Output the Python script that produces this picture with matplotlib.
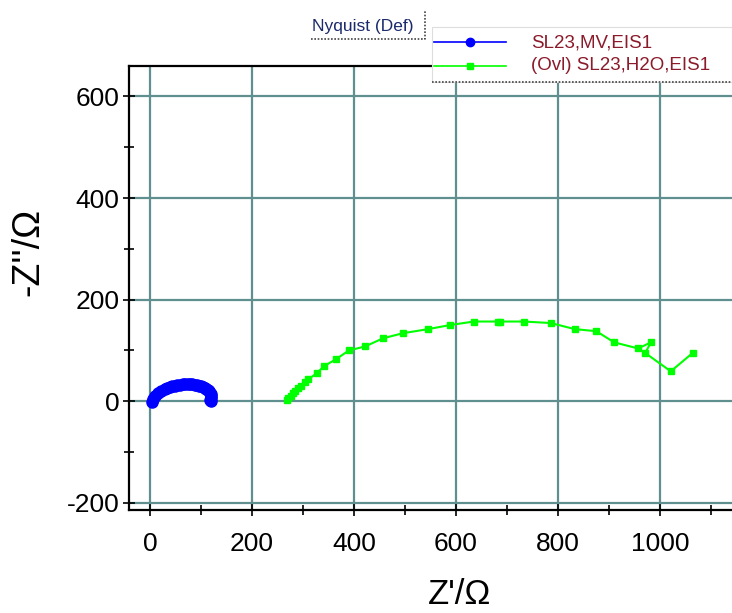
import numpy as np
import matplotlib
matplotlib.use('Agg')
from matplotlib import pyplot as plt
from matplotlib.lines import Line2D
from matplotlib.ticker import MultipleLocator

plt.rcParams['axes.unicode_minus'] = False

# blue series: SL23,MV,EIS1
mv_re = [4, 6, 10, 16, 22, 29, 34, 39, 44, 49, 54, 59, 64, 69, 74, 78, 83, 88, 92,
         96, 100, 104, 107, 110, 113, 116, 118, 120, 120, 119, 118, 120]
mv_im = [-2, 4, 10, 16, 20, 24, 26, 28, 30, 31, 32, 33, 34, 35, 35, 35, 34, 33, 32,
         31, 30, 28, 26, 24, 22, 20, 17, 14, 10, 6, 2, 1]

# green series: (Ovl) SL23,H2O,EIS1
h2o_re = [268, 271, 276, 280, 285, 290, 297, 304, 310, 327, 341, 365, 390, 422, 457,
          496, 545, 588, 635, 682, 686, 733, 786, 833, 875, 910, 957, 982, 971, 1021, 1065]
h2o_im = [2, 6, 10, 16, 20, 26, 31, 37, 43, 55, 69, 83, 100, 108, 124,
          134, 142, 150, 157, 157, 157, 157, 154, 142, 138, 116, 104, 116, 95, 59, 96]

legend_labels = ['SL23,MV,EIS1', '(Ovl) SL23,H2O,EIS1']
title_tag = 'Nyquist (Def)'

grid_col = '#5f8f8f'
text_red = '#8b1a2a'

fig = plt.figure(figsize=(7.32, 6.13), dpi=100)
ax = fig.add_axes([129/732, 1 - 510/613, 1 - 129/732, (510 - 66)/613])

ax.plot(mv_re, mv_im, color='#0000ff', lw=1.5, marker='o', ms=8, zorder=3)
ax.plot(h2o_re, h2o_im, color='#00ff00', lw=1.5, marker='s', ms=5, zorder=3)

ax.set_xlim(-41, 1141)
ax.set_ylim(-214, 660)
ax.xaxis.set_major_locator(MultipleLocator(200))
ax.xaxis.set_minor_locator(MultipleLocator(100))
ax.yaxis.set_major_locator(MultipleLocator(200))
ax.yaxis.set_minor_locator(MultipleLocator(100))
ax.grid(True, which='major', color=grid_col, lw=1.6, zorder=1)
ax.set_axisbelow(True)

for s in ['left', 'bottom', 'top']:
    ax.spines[s].set_linewidth(1.6)
    ax.spines[s].set_color('black')
ax.spines['right'].set_visible(False)

ax.tick_params(which='major', direction='inout', length=8, width=1.2,
               labelsize=19, pad=3, labelfontfamily='Liberation Sans')
ax.tick_params(axis='x', which='major', pad=12)
ax.tick_params(which='minor', direction='inout', length=7, width=1.2)
ax.tick_params(top=False, right=False, which='both')

ax.set_xlabel("Z'/Ω", family='Liberation Sans', fontsize=25)
ax.set_ylabel("-Z''/Ω", family='Liberation Sans', fontsize=27)
ax.xaxis.set_label_coords((460 - 129)/603, -(595 - 510)/444, transform=ax.transAxes)
ax.yaxis.set_label_coords(-(129 - 28)/603, (510 - 252)/444, transform=ax.transAxes)
ax.xaxis.label.set_va('center')
ax.yaxis.label.set_va('center')

# legend box drawn in figure pixels, like the instrument software
W, H = 732, 613
def fx(px):
    return px / W
def fy(py):
    return 1 - py / H

fig.patches.append(plt.Rectangle((fx(432), fy(82)), fx(300), 55/H, transform=fig.transFigure,
                                 facecolor='white', edgecolor='#dddddd', lw=0.8, zorder=5))
fig.add_artist(Line2D([fx(432), fx(732)], [fy(82), fy(82)], transform=fig.transFigure,
                      color='#444444', lw=1.2, ls=(0, (1, 1)), zorder=6))
fig.add_artist(Line2D([fx(434), fx(470), fx(506)], [fy(42)] * 3, transform=fig.transFigure,
                      color='#0000ff', lw=1.2, marker='o', ms=6, markevery=[1], zorder=6))
fig.add_artist(Line2D([fx(434), fx(470), fx(506)], [fy(66)] * 3, transform=fig.transFigure,
                      color='#00ff00', lw=1.2, marker='s', ms=4, markevery=[1], zorder=6))
fig.text(fx(531), fy(43), legend_labels[0], color=text_red, fontsize=13.5,
         family='Liberation Sans', va='center', zorder=7)
fig.text(fx(531), fy(66), legend_labels[1], color=text_red, fontsize=13.5,
         family='Liberation Sans', va='center', zorder=7)

fig.patches.append(plt.Rectangle((fx(311), fy(39)), fx(115), 28/H, transform=fig.transFigure,
                                 facecolor='white', edgecolor='none', zorder=5))
fig.add_artist(Line2D([fx(311), fx(425), fx(425)], [fy(39), fy(39), fy(11)], transform=fig.transFigure,
                      color='#444444', lw=1.2, ls=(0, (1, 1)), zorder=6))
fig.text(fx(312), fy(26), title_tag, color='#1a2a6b', fontsize=12.5,
         family='Liberation Sans', va='center', zorder=7)

fig.savefig('out.png', dpi=100)
